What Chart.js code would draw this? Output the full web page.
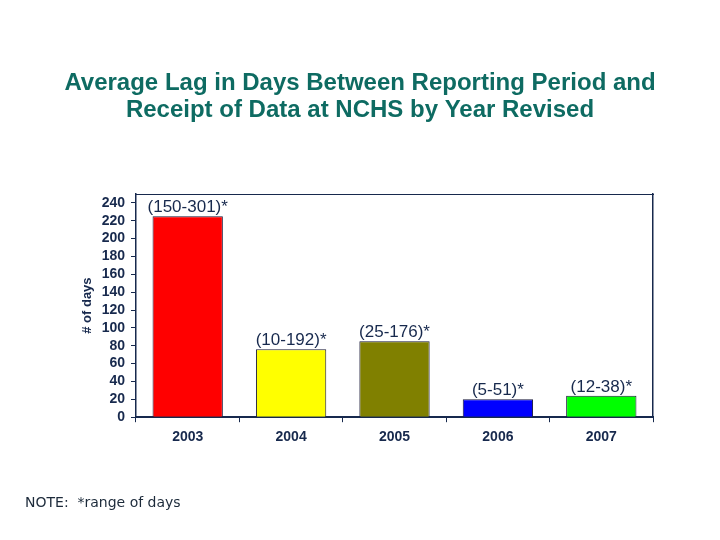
<!DOCTYPE html>
<html>
<head>
<meta charset="utf-8">
<title>Average Lag in Days</title>
<script src="https://cdn.jsdelivr.net/npm/chart.js@4.4.1/dist/chart.umd.min.js"></script>
<style>
  html, body { margin: 0; padding: 0; background: #ffffff; }
  #lag-chart { display: block; }
</style>
</head>
<body>
<canvas id="lag-chart" width="720" height="540"></canvas>
<script>
// data
var years = ["2003", "2004", "2005", "2006", "2007"];
var avgLagDays = [225, 76, 85, 20, 24];
var dayRanges = ["(150-301)*", "(10-192)*", "(25-176)*", "(5-51)*", "(12-38)*"];
var barColors = ["#ff0000", "#ffff00", "#808000", "#0000ff", "#00ff00"];
var yTickValues = [0, 20, 40, 60, 80, 100, 120, 140, 160, 180, 200, 220, 240];

var navy = "#17294d";
var teal = "#0e6b62";
var arial = "'Liberation Sans', Arial, Helvetica, sans-serif";

// range labels sitting on top of each bar
var rangeLabels = {
    id: "rangeLabels",
    afterDatasetsDraw: function (chart) {
        var ctx = chart.ctx;
        var bars = chart.getDatasetMeta(0).data;
        ctx.save();
        ctx.font = "17px " + arial;
        ctx.fillStyle = navy;
        ctx.textAlign = "center";
        ctx.textBaseline = "alphabetic";
        bars.forEach(function (bar, i) {
            ctx.fillText(dayRanges[i], bar.x, bar.y - 4);
        });
        ctx.restore();
    }
};

var lagCanvas = document.getElementById("lag-chart");

var lagChart = new Chart(lagCanvas, {
    type: "bar",
    data: {
        labels: years,
        datasets: [
            {
                data: avgLagDays,
                backgroundColor: barColors,
                borderColor: "#1a1a3a",
                borderWidth: 1,
                barPercentage: 0.68,
                categoryPercentage: 1.0
            }
        ]
    },
    options: {
        responsive: false,
        animation: false,
        devicePixelRatio: 1,
        layout: {
            padding: { left: 25, right: 25, top: 0, bottom: 0 }
        },
        plugins: {
            legend: { display: false },
            tooltip: { enabled: false },
            title: {
                display: true,
                text: [
                    "Average Lag in Days Between Reporting Period and",
                    "Receipt of Data at NCHS by Year Revised"
                ],
                color: teal,
                font: { family: arial, size: 24, weight: "bold", lineHeight: 1.125 },
                padding: { top: 70, bottom: 70 }
            },
            subtitle: {
                display: true,
                position: "bottom",
                align: "start",
                text: "NOTE:  *range of days",
                color: "#1c2a3a",
                font: { family: "'DejaVu Sans', Verdana, sans-serif", size: 14, weight: "normal", lineHeight: 1.2 },
                padding: { top: 0, bottom: 28 }
            }
        },
        scales: {
            x: {
                position: "bottom",
                grid: {
                    offset: true,
                    drawOnChartArea: false,
                    drawTicks: true,
                    tickLength: 5,
                    color: navy
                },
                border: { display: true, color: navy, width: 2 },
                ticks: {
                    color: navy,
                    padding: 7,
                    font: { family: arial, size: 14, weight: "bold" }
                },
                afterFit: function (scale) {
                    scale.height = 78;
                }
            },
            y: {
                position: "left",
                min: 0,
                max: 250,
                grid: {
                    drawOnChartArea: false,
                    drawTicks: true,
                    tickLength: 5,
                    color: navy
                },
                border: { display: true, color: navy, width: 1.5 },
                ticks: {
                    autoSkip: false,
                    color: navy,
                    padding: 6,
                    font: { family: arial, size: 14, weight: "bold" }
                },
                title: {
                    display: true,
                    text: "# of days",
                    color: navy,
                    font: { family: arial, size: 13, weight: "bold", lineHeight: 1.2 },
                    padding: { top: 55, bottom: 0 }
                },
                afterBuildTicks: function (scale) {
                    scale.ticks = yTickValues.map(function (v) {
                        return { value: v };
                    });
                },
                afterFit: function (scale) {
                    scale.width = 111;
                }
            },
            // top and right edges of the plot frame
            xTop: {
                type: "category",
                position: "top",
                display: true,
                grid: { display: false },
                ticks: { display: false },
                border: { display: true, color: navy, width: 1 },
                afterFit: function (scale) {
                    scale.height = 0;
                }
            },
            yRight: {
                type: "linear",
                position: "right",
                display: true,
                grid: { display: false },
                ticks: { display: false },
                border: { display: true, color: navy, width: 1.5 },
                afterFit: function (scale) {
                    scale.width = 42;
                }
            }
        }
    },
    plugins: [rangeLabels]
});
</script>
</body>
</html>
